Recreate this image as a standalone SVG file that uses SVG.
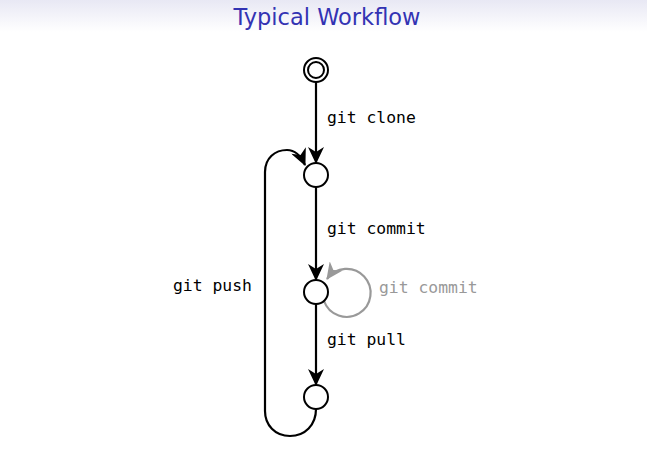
<svg xmlns="http://www.w3.org/2000/svg" width="647" height="458" viewBox="0 0 647 458">
<defs>
<linearGradient id="hdr" x1="0" y1="0" x2="0" y2="1">
<stop offset="0" stop-color="#e8e8f4"/>
<stop offset="1" stop-color="#ffffff"/>
</linearGradient>
<marker id="ah" viewBox="0 0 17 16" refX="16" refY="8" markerWidth="17" markerHeight="16" markerUnits="userSpaceOnUse" orient="auto">
<path d="M0,0 L17,8 L0,16 L5,8 Z" fill="#000"/>
</marker>
<marker id="ahg" viewBox="0 0 17 16" refX="16" refY="8" markerWidth="17" markerHeight="16" markerUnits="userSpaceOnUse" orient="auto">
<path d="M0,0 L17,8 L0,16 L5,8 Z" fill="#999"/>
</marker>
</defs>
<style>
.n{fill:#fff;stroke:#000;stroke-width:2}
.e{fill:none;stroke:#000;stroke-width:2.2}
.g{fill:none;stroke:#999;stroke-width:2.2}
.t{font-family:"DejaVu Sans Mono",monospace;font-size:16.4px;fill:#000}
</style>
<rect x="0" y="0" width="647" height="32" fill="url(#hdr)"/>
<text x="327" y="25" text-anchor="middle" font-family="'DejaVu Sans','Liberation Sans',sans-serif" font-size="22.5" fill="#3333b3">Typical Workflow</text>
<g id="connectors">
<path class="e" d="M316,82 L316,163" marker-end="url(#ah)"/>
<path class="e" d="M316,187 L316,280" marker-end="url(#ah)"/>
<path class="e" d="M316,304 L316,385" marker-end="url(#ah)"/>
<path class="g" d="M324,301 A24,24 0 1 0 327,279" marker-end="url(#ahg)"/>
<path class="e" d="M316,409 C316,425 305,436 290,436 C275,436 265,425 265,411 L265,172 C265,158 275,150 287,150 C295,150 301,156 305,165" marker-end="url(#ah)"/>
<text class="t" x="327" y="123">git clone</text>
<text class="t" x="327" y="234">git commit</text>
<text class="t" x="327" y="345">git pull</text>
<text class="t" x="173" y="291">git push</text>
<text class="t" x="379" y="293" style="fill:#999">git commit</text>
</g>
<g id="start"><circle class="n" cx="316" cy="70" r="12"/><circle class="n" cx="316" cy="70" r="8"/></g>
<g id="n1"><circle class="n" cx="316" cy="175" r="12"/></g>
<g id="n2"><circle class="n" cx="316" cy="292" r="12"/></g>
<g id="n3"><circle class="n" cx="316" cy="397" r="12"/></g>
</svg>
